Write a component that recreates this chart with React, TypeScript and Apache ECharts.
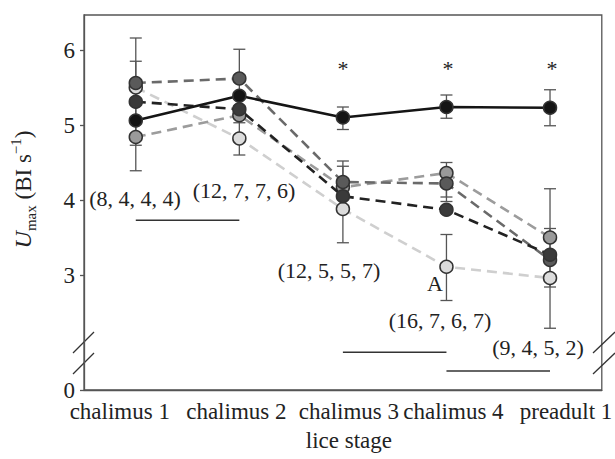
import React, { useEffect, useRef } from "react";
import * as echarts from "echarts";

const stages = ["chalimus 1", "chalimus 2", "chalimus 3", "chalimus 4", "preadult 1"];
const stageLabelShift = [-16, -3, 6, 7, 16];
const AXIS_BREAK_ZERO = 1.4667; // broken axis: this value is drawn where "0" sits
const yTickValues = [AXIS_BREAK_ZERO, 3, 4, 5, 6];
const yTickLabels = ["0", "3", "4", "5", "6"];

const seriesSolid = [5.06, 5.39, 5.1, 5.24, 5.23];
const seriesDarkGrey = [5.56, 5.62, 4.24, 4.22, 3.2];
const seriesBlackDash = [5.31, 5.21, 4.05, 3.87, 3.27];
const seriesMidGrey = [4.84, 5.13, 4.17, 4.36, 3.5];
const seriesLight = [5.5, 4.82, 3.88, 3.11, 2.96];

// [stage index, low, high]
const errorBars = [
  [0, 4.39, 6.16],
  [0, 4.73, 5.85],
  [1, 4.6, 6.01],
  [1, 5.03, 5.39],
  [2, 4.94, 5.24],
  [2, 3.43, 4.52],
  [2, 4.04, 4.45],
  [3, 5.09, 5.4],
  [3, 4.04, 4.5],
  [3, 3.98, 4.22],
  [3, 2.66, 3.54],
  [4, 4.99, 5.47],
  [4, 2.29, 4.15],
  [4, 2.84, 3.62],
];

// [from stage, to stage, value]
const sigBars = [
  [0, 1, 3.73],
  [2, 3, 1.97],
  [3, 4, 1.72],
];

const sampleSizes = ["(8, 4, 4, 4)", "(12, 7, 7, 6)", "(12, 5, 5, 7)", "(16, 7, 6, 7)", "(9, 4, 5, 2)"];
const starStages = [2, 3, 4];

const SERIF = "'Liberation Serif', 'DejaVu Serif', serif";

export default function App() {
  const ref = useRef<HTMLDivElement>(null);

  useEffect(() => {
    if (!ref.current) return;
    const chart = echarts.init(ref.current, undefined, { renderer: "svg" });

    const mkLine = (data: number[], fill: string, stroke: string, dashed: boolean, z: number) => ({
      type: "line",
      data,
      z,
      symbol: "circle",
      symbolSize: 13,
      itemStyle: { color: fill, borderColor: "#333", borderWidth: 1.5 },
      lineStyle: { color: stroke, width: 2.6, type: dashed ? [10, 6] : "solid" },
      emphasis: { disabled: true },
    });

    const textStyle = { fontFamily: SERIF, fontSize: 22, fill: "#222" };
    const annot = (text: string, x: number, y: number) => ({
      type: "text",
      x,
      y,
      style: { ...textStyle, text, textAlign: "center", textVerticalAlign: "middle" },
    });
    const samplePos = [
      [135, 198],
      [244, 190],
      [329, 270],
      [440, 320],
      [538, 347],
    ];
    const starX = [343, 448, 552];

    const breakStyle = { stroke: "#333", lineWidth: 1.3 };

    chart.setOption({
      animation: false,
      grid: {
        left: 83,
        right: 11,
        top: 15,
        bottom: 69,
        show: true,
        borderColor: "#555",
        borderWidth: 1.3,
      },
      xAxis: {
        type: "category",
        data: stages.map((s, i) => ({
          value: s,
          textStyle: {
            padding: stageLabelShift[i] < 0 ? [0, -2 * stageLabelShift[i], 0, 0] : [0, 0, 0, 2 * stageLabelShift[i]],
          },
        })),
        boundaryGap: true,
        axisLine: { lineStyle: { color: "#555", width: 1.3 } },
        axisTick: { alignWithLabel: true, length: 5, lineStyle: { color: "#555", width: 1.3 } },
        axisLabel: { interval: 0, margin: 10, fontFamily: SERIF, fontSize: 23, color: "#222" },
        name: "lice stage",
        nameLocation: "middle",
        nameGap: 39,
        nameTextStyle: { fontFamily: SERIF, fontSize: 23, color: "#222", padding: [0, 0, 0, 12] },
        splitLine: { show: false },
      },
      yAxis: {
        type: "value",
        min: AXIS_BREAK_ZERO,
        max: 6.4667,
        axisLine: { show: true, lineStyle: { color: "#555", width: 1.3 } },
        axisTick: { show: true, length: 4, customValues: yTickValues, lineStyle: { color: "#555", width: 1.3 } },
        axisLabel: {
          customValues: yTickValues,
          margin: 9,
          fontFamily: SERIF,
          fontSize: 23,
          color: "#222",
          formatter: (v: number) => {
            const idx = yTickValues.findIndex((t) => Math.abs(t - v) < 1e-3);
            return idx >= 0 ? yTickLabels[idx] : "";
          },
        },
        splitLine: { show: false },
        name: "{i|U}{sub|max}{n| (BI s}{sup|−1}{n|)}",
        nameLocation: "middle",
        nameRotate: 90,
        nameGap: 46,
        nameTextStyle: {
          fontFamily: SERIF,
          fontSize: 23,
          color: "#222",
          padding: [0, 0, 0, 26],
          rich: {
            i: { fontFamily: SERIF, fontSize: 24, fontStyle: "italic", color: "#222", lineHeight: 30 },
            n: { fontFamily: SERIF, fontSize: 23, color: "#222", lineHeight: 30 },
            sub: { fontFamily: SERIF, fontSize: 15, color: "#222", lineHeight: 14, verticalAlign: "bottom" },
            sup: { fontFamily: SERIF, fontSize: 15, color: "#222", lineHeight: 14, verticalAlign: "top" },
          },
        },
      },
      series: [
        {
          type: "custom",
          z: 1,
          data: errorBars,
          encode: { x: 0, y: [1, 2] },
          renderItem: (params: any, api: any) => {
            const x = api.value(0);
            const lo = api.coord([x, api.value(1)]);
            const hi = api.coord([x, api.value(2)]);
            const st = { stroke: "#555", lineWidth: 1.3 };
            return {
              type: "group",
              children: [
                { type: "line", shape: { x1: lo[0], y1: lo[1], x2: hi[0], y2: hi[1] }, style: st },
                { type: "line", shape: { x1: lo[0] - 6, y1: lo[1], x2: lo[0] + 6, y2: lo[1] }, style: st },
                { type: "line", shape: { x1: hi[0] - 6, y1: hi[1], x2: hi[0] + 6, y2: hi[1] }, style: st },
              ],
            };
          },
        },
        {
          type: "custom",
          z: 1,
          data: sigBars,
          encode: { x: [0, 1], y: 2 },
          renderItem: (params: any, api: any) => {
            const a = api.coord([api.value(0), api.value(2)]);
            const b = api.coord([api.value(1), api.value(2)]);
            return {
              type: "line",
              shape: { x1: a[0], y1: a[1], x2: b[0], y2: b[1] },
              style: { stroke: "#333", lineWidth: 1.3 },
            };
          },
        },
        mkLine(seriesLight, "#dcdcdc", "#cfcfcf", true, 2),
        mkLine(seriesMidGrey, "#9a9a9a", "#9c9c9c", true, 3),
        mkLine(seriesDarkGrey, "#5a5a5a", "#6a6a6a", true, 4),
        mkLine(seriesBlackDash, "#3a3a3a", "#222", true, 5),
        mkLine(seriesSolid, "#151515", "#151515", false, 6),
      ],
      graphic: [
        ...sampleSizes.map((t, i) => annot(t, samplePos[i][0], samplePos[i][1])),
        annot("A", 435, 283),
        ...starStages.map((s, i) => annot("*", starX[i], 68)),
        { type: "line", shape: { x1: 73, y1: 353, x2: 94, y2: 332 }, style: breakStyle },
        { type: "line", shape: { x1: 73, y1: 374, x2: 94, y2: 353 }, style: breakStyle },
        { type: "line", shape: { x1: 593, y1: 353, x2: 615, y2: 332 }, style: breakStyle },
        { type: "line", shape: { x1: 593, y1: 374, x2: 615, y2: 353 }, style: breakStyle },
      ],
    });

    return () => chart.dispose();
  }, []);

  return <div ref={ref} style={{ width: 615, height: 459, position: "absolute", left: 0, top: 0 }} />;
}
